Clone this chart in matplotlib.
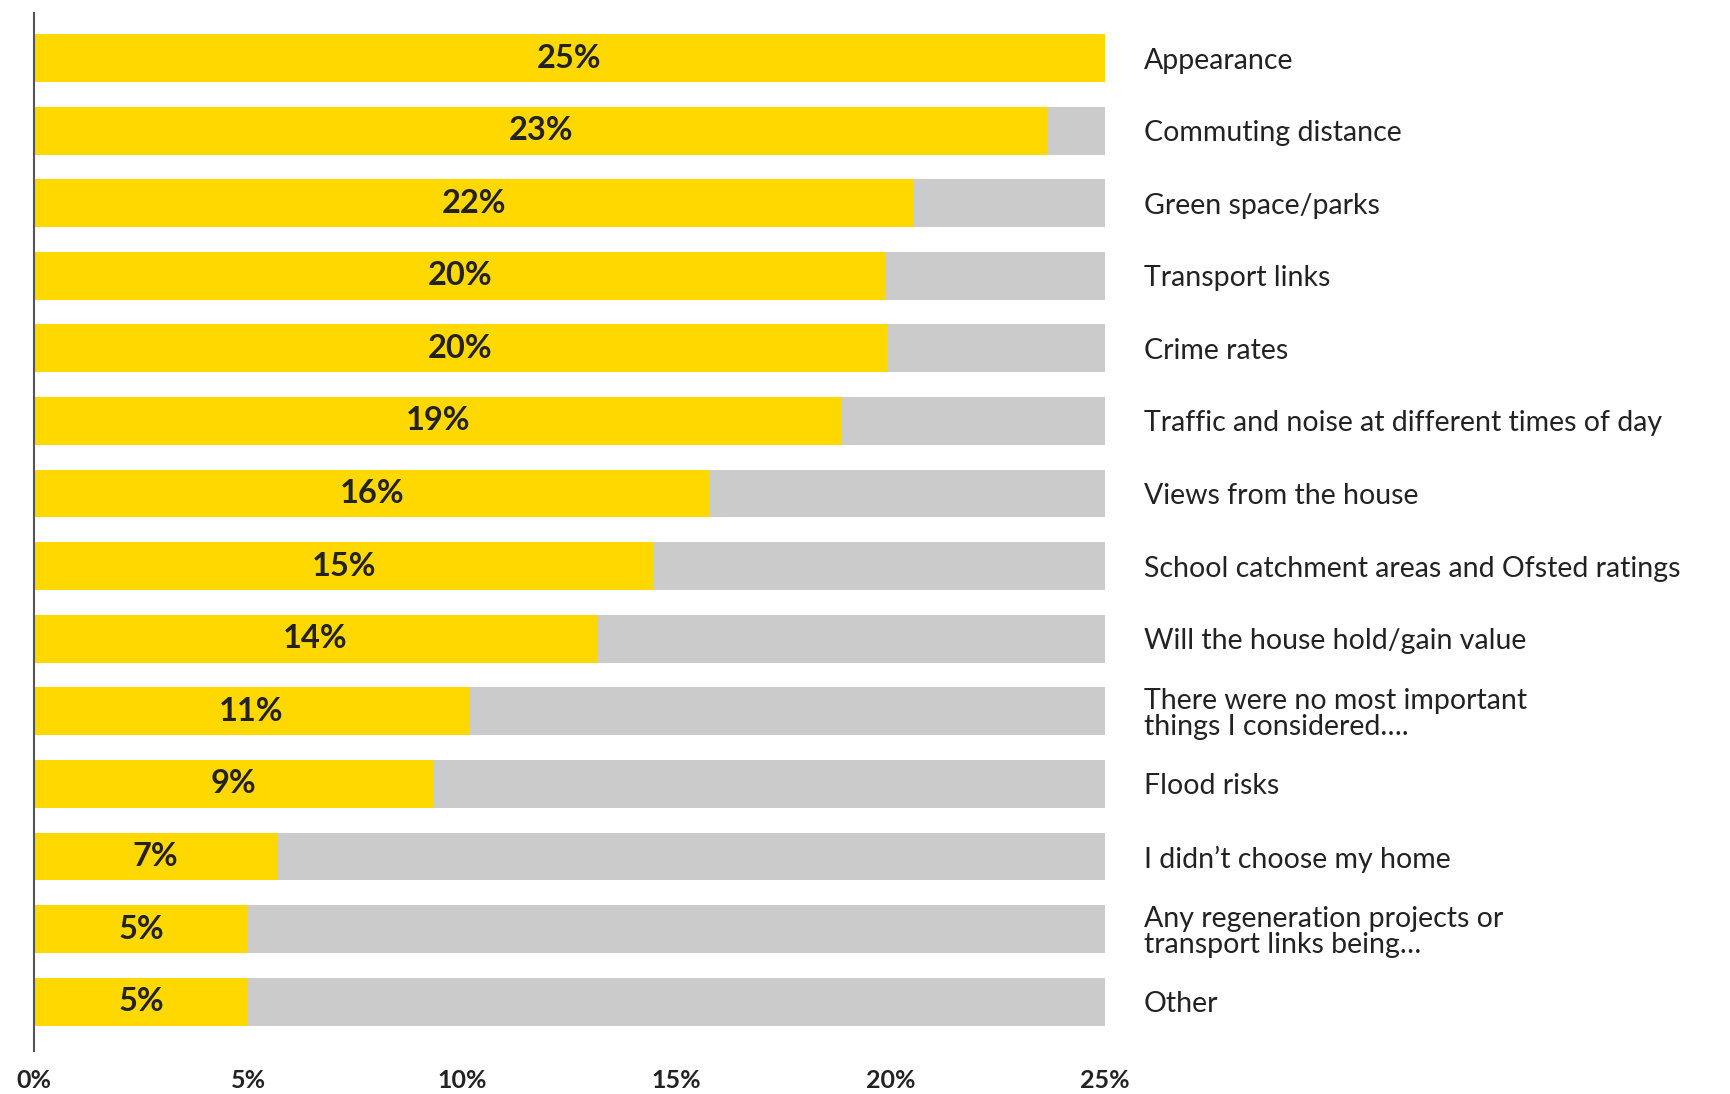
import matplotlib.pyplot as plt
from matplotlib.ticker import FuncFormatter


# Survey data: share of respondents per factor
CATEGORIES = [
    "Appearance",
    "Commuting distance",
    "Green space/parks",
    "Transport links",
    "Crime rates",
    "Traffic and noise at different times of day",
    "Views from the house",
    "School catchment areas and Ofsted ratings",
    "Will the house hold/gain value",
    "There were no most important\nthings I considered….",
    "Flood risks",
    "I didn\u2019t choose my home",
    "Any regeneration projects or\ntransport links being\u2026",
    "Other",
]
VALUES = [25.0, 23.66, 20.54, 19.87, 19.9, 18.87, 15.77, 14.48, 13.14,
          10.15, 9.33, 5.67, 5.0, 5.0]
VALUE_LABELS = ["25%", "23%", "22%", "20%", "20%", "19%", "16%", "15%",
                "14%", "11%", "9%", "7%", "5%", "5%"]
X_TICKS = [0, 5, 10, 15, 20, 25]
X_MAX = 25

YELLOW = "#FFD800"
GREY = "#CBCBCB"
TEXT = "#222222"

plt.rcParams["font.family"] = ["Lato", "DejaVu Sans"]

fig = plt.figure(figsize=(17.31, 10.94), dpi=100)
ax = fig.add_axes([0.0196, 0.0393, 0.6188, 0.9488])

pos = list(range(len(CATEGORIES)))

# grey background track, then the yellow value bar
ax.barh(pos, [X_MAX] * len(pos), height=0.66, color=GREY, zorder=1)
ax.barh(pos, VALUES, height=0.66, color=YELLOW, zorder=2)

for y, v, lab in zip(pos, VALUES, VALUE_LABELS):
    ax.text(v / 2, y, lab, ha="center", va="center", fontsize=23.5,
            fontweight="bold", color=TEXT, zorder=3)

ax.set_xlim(0, X_MAX)
ax.set_ylim(len(pos) - 1 + 0.68, -0.62)

ax.set_xticks(X_TICKS)
ax.xaxis.set_major_formatter(FuncFormatter(lambda x, _: f"{x:.0f}%"))
ax.tick_params(axis="x", length=0, pad=13, labelsize=18, labelcolor=TEXT)
for t in ax.get_xticklabels():
    t.set_fontweight("bold")

ax.yaxis.tick_right()
ax.set_yticks(pos)
ax.set_yticklabels(CATEGORIES, fontsize=20.5, color=TEXT, linespacing=1.0)
ax.tick_params(axis="y", length=0, pad=28)

for side in ["top", "right", "bottom"]:
    ax.spines[side].set_visible(False)
ax.spines["left"].set_color("#555555")
ax.spines["left"].set_linewidth(1.5)

fig.savefig("out.png", dpi=100)
